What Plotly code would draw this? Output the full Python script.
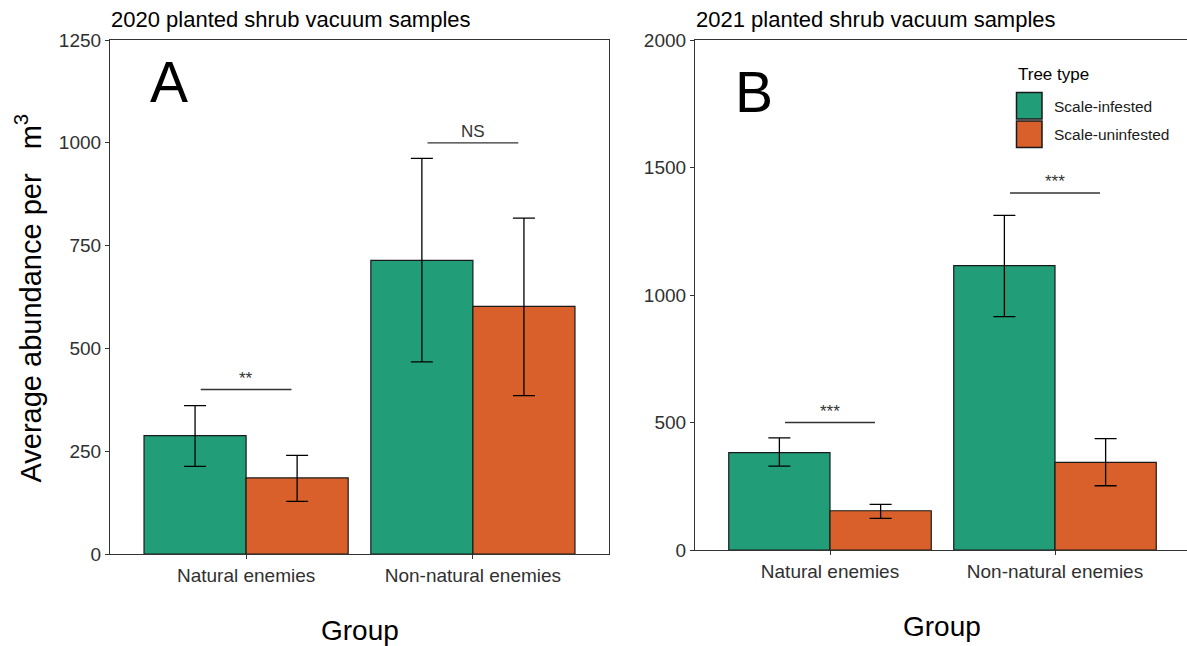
import plotly.graph_objects as go

# ---------------- data ----------------
categories = ["Natural enemies", "Non-natural enemies"]
tree_types = ["Scale-infested", "Scale-uninfested"]
colors = ["#219E77", "#D9602A"]

mean_2020_infested = [288, 714]
mean_2020_uninfested = [185, 602]
upper_2020_infested = [361, 962]
lower_2020_infested = [213, 467]
upper_2020_uninfested = [240, 817]
lower_2020_uninfested = [128, 385]

mean_2021_infested = [382, 1115]
mean_2021_uninfested = [154, 344]
upper_2021_infested = [440, 1312]
lower_2021_infested = [329, 915]
upper_2021_uninfested = [179, 437]
lower_2021_uninfested = [124, 252]

sig_2020 = ["**", "NS"]
sig_y_2020 = [400, 1000]
sig_2021 = ["***", "***"]
sig_y_2021 = [500, 1400]

y_ticks_2020 = [0, 250, 500, 750, 1000, 1250]
y_ticks_2021 = [0, 500, 1000, 1500, 2000]

W, H = 1187, 646
FONT = "Liberation Sans, Arial, sans-serif"
TICKC = "#303030"


def px(xp):
    return xp / W


def py(yp):
    return 1 - yp / H


fig = go.Figure()


def add_bars(means, uppers, lowers, name, color, xa, ya):
    fig.add_trace(go.Bar(
        x=categories, y=means, name=name,
        marker=dict(color=color, line=dict(color="#1a1a1a", width=1.2)),
        error_y=dict(type="data", symmetric=False,
                     array=[u - m for u, m in zip(uppers, means)],
                     arrayminus=[m - l for m, l in zip(means, lowers)],
                     color="#000000", thickness=1.3, width=11),
        xaxis=xa, yaxis=ya, showlegend=False,
    ))


add_bars(mean_2020_infested, upper_2020_infested, lower_2020_infested, tree_types[0], colors[0], "x", "y")
add_bars(mean_2020_uninfested, upper_2020_uninfested, lower_2020_uninfested, tree_types[1], colors[1], "x", "y")
add_bars(mean_2021_infested, upper_2021_infested, lower_2021_infested, tree_types[0], colors[0], "x2", "y2")
add_bars(mean_2021_uninfested, upper_2021_uninfested, lower_2021_uninfested, tree_types[1], colors[1], "x2", "y2")

axis_common = dict(
    showline=True, linecolor="#333333", linewidth=1.2,
    ticks="outside", ticklen=4, tickcolor="#333333", tickwidth=1.2,
    tickfont=dict(family=FONT, size=19, color=TICKC),
    showgrid=False, zeroline=False, automargin=False,
)

fig.update_layout(
    width=W, height=H,
    margin=dict(l=0, r=0, t=0, b=0),
    paper_bgcolor="white", plot_bgcolor="white",
    barmode="group", bargap=0.1, bargroupgap=0,
    xaxis=dict(domain=[px(110), px(609)], anchor="y", range=[-0.6, 1.6],
               mirror=True, **axis_common),
    yaxis=dict(domain=[py(554), py(40)], anchor="x", range=[0, 1250],
               tickvals=y_ticks_2020, mirror=True, **axis_common),
    xaxis2=dict(domain=[px(695), 1.0], anchor="y2",
                range=[-0.6, -0.6 + (W - 695) / 225.0],
                mirror=True, **axis_common),
    yaxis2=dict(domain=[py(550), py(40)], anchor="x2", range=[0, 2000],
                tickvals=y_ticks_2021, mirror=False, **axis_common),
    showlegend=False,
)

shapes = []
annotations = []

# significance brackets
for xa, ya, labels, ys in (("x", "y", sig_2020, sig_y_2020), ("x2", "y2", sig_2021, sig_y_2021)):
    for i, (lab, yv) in enumerate(zip(labels, ys)):
        shapes.append(dict(type="line", xref=xa, yref=ya, x0=i - 0.2, x1=i + 0.2,
                           y0=yv, y1=yv, line=dict(color="#333333", width=1.3)))
        annotations.append(dict(xref=xa, yref=ya, x=i, y=yv, text=lab, showarrow=False,
                                xanchor="center", yanchor="bottom",
                                font=dict(family=FONT, size=17, color="#333333")))

# panel letters
annotations.append(dict(xref="x", yref="y", x=-0.34, y=1148, text="A", showarrow=False,
                        xanchor="center", yanchor="middle",
                        font=dict(family=FONT, size=57, color="black")))
annotations.append(dict(xref="x2", yref="y2", x=-0.338, y=1797, text="B", showarrow=False,
                        xanchor="center", yanchor="middle",
                        font=dict(family=FONT, size=57, color="black")))

# panel titles
annotations.append(dict(xref="paper", yref="paper", x=px(109), y=py(19.5),
                        text="2020 planted shrub vacuum samples", showarrow=False,
                        xanchor="left", yanchor="middle",
                        font=dict(family=FONT, size=22, color="black")))
annotations.append(dict(xref="paper", yref="paper", x=px(694), y=py(19.5),
                        text="2021 planted shrub vacuum samples", showarrow=False,
                        xanchor="left", yanchor="middle",
                        font=dict(family=FONT, size=22, color="black")))

# axis titles
annotations.append(dict(xref="paper", yref="paper", x=px(28), y=py(298.5),
                        text="Average abundance per\u00a0\u00a0\u00a0m<sup>3</sup>",
                        textangle=-90, showarrow=False,
                        xanchor="center", yanchor="middle",
                        font=dict(family=FONT, size=29, color="black")))
annotations.append(dict(xref="paper", yref="paper", x=px(360), y=py(630.5),
                        text="Group", showarrow=False, xanchor="center", yanchor="middle",
                        font=dict(family=FONT, size=28, color="black")))
annotations.append(dict(xref="paper", yref="paper", x=px(942), y=py(626.5),
                        text="Group", showarrow=False, xanchor="center", yanchor="middle",
                        font=dict(family=FONT, size=28, color="black")))

# legend (drawn manually to match large keys)
annotations.append(dict(xref="paper", yref="paper", x=px(1015.5), y=py(74),
                        text="Tree type", showarrow=False, xanchor="left", yanchor="middle",
                        font=dict(family=FONT, size=17, color="black")))
key_tops = [92.5, 121]
for name, col, top in zip(tree_types, colors, key_tops):
    shapes.append(dict(type="rect", xref="paper", yref="paper",
                       x0=px(1016.5), x1=px(1042), y0=py(top + 26.5), y1=py(top),
                       fillcolor=col, line=dict(color="#1a1a1a", width=1.5)))
    annotations.append(dict(xref="paper", yref="paper", x=px(1052), y=py(top + 14),
                            text=name, showarrow=False, xanchor="left", yanchor="middle",
                            font=dict(family=FONT, size=15.5, color="#1a1a1a")))

fig.update_layout(shapes=shapes, annotations=annotations)

fig.write_html("out.html")
